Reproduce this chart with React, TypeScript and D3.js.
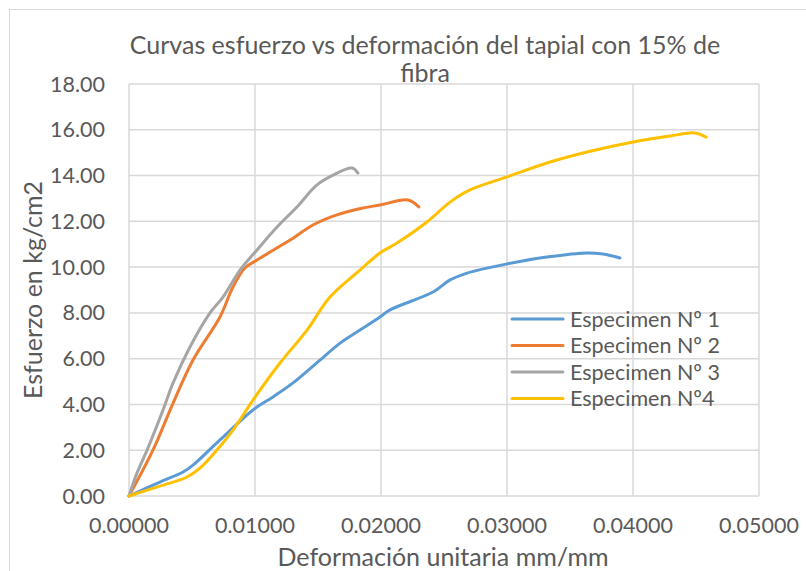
import React from "react";
import * as d3 from "d3";

const xTicks = [0, 0.01, 0.02, 0.03, 0.04, 0.05];
const yTicks = [0, 2, 4, 6, 8, 10, 12, 14, 16, 18];

const seriesNames = ["Especimen Nº 1", "Especimen Nº 2", "Especimen Nº 3", "Especimen Nº4"];
const seriesColors = ["#5B9BD5", "#ED7D31", "#A5A5A5", "#FFC000"];

const spec1: [number, number][] = [
  [0, 0], [0.00246, 0.61], [0.00429, 1.05], [0.00508, 1.35], [0.00722, 2.45], [0.00984, 3.76],
  [0.01143, 4.33], [0.01302, 4.94], [0.01516, 5.94], [0.01675, 6.68], [0.01833, 7.25],
  [0.01992, 7.82], [0.02071, 8.13], [0.02413, 8.91], [0.02548, 9.44], [0.02683, 9.74],
  [0.03, 10.14], [0.03317, 10.44], [0.03635, 10.62], [0.03762, 10.57], [0.03897, 10.4],
];
const spec2: [number, number][] = [
  [0, 0], [0.0019, 2.0], [0.0035, 4.06], [0.00508, 5.94], [0.00722, 7.82], [0.00825, 9.13],
  [0.0092, 9.96], [0.01016, 10.31], [0.01278, 11.18], [0.0146, 11.84], [0.0165, 12.28],
  [0.01857, 12.58], [0.01992, 12.71], [0.02214, 12.93], [0.0230, 12.63],
];
const spec3: [number, number][] = [
  [0, 0], [0.00063, 1.0], [0.00143, 2.0], [0.0027, 3.76], [0.0035, 4.94], [0.00484, 6.51],
  [0.00643, 8.0], [0.00746, 8.69], [0.00881, 9.87], [0.01016, 10.75], [0.01175, 11.75],
  [0.01333, 12.63], [0.01492, 13.59], [0.01619, 14.02], [0.0177, 14.33], [0.01817, 14.11],
];
const spec4: [number, number][] = [
  [0, 0], [0.00222, 0.39], [0.0046, 0.83], [0.00563, 1.22], [0.00698, 2.01], [0.00825, 2.88],
  [0.00984, 4.19], [0.01198, 5.81], [0.01413, 7.25], [0.01595, 8.69], [0.01833, 9.87],
  [0.01992, 10.62], [0.02127, 11.05], [0.02365, 11.97], [0.02548, 12.84], [0.02706, 13.37],
  [0.03, 13.94], [0.03317, 14.55], [0.03635, 15.03], [0.04, 15.47], [0.04294, 15.73],
  [0.04492, 15.86], [0.0458, 15.68],
];
const allSeries = [spec1, spec2, spec3, spec4];

export default function App() {
  const W = 806, H = 571;
  const left = 129, right = 759, top = 84, bottom = 496;
  const x = d3.scaleLinear().domain([0, 0.05]).range([left, right]);
  const y = d3.scaleLinear().domain([0, 18]).range([bottom, top]);
  const line = d3
    .line<[number, number]>()
    .x((d) => x(d[0]))
    .y((d) => y(d[1]))
    .curve(d3.curveCatmullRom.alpha(0.5));
  const font = "Lato, 'Open Sans', sans-serif";
  const txt = "#595959";
  const legX = 512, legY = 319, legStep = 26.5;
  const tickFs = 21.5, titleFs = 25;
  return (
    <svg width={W} height={H} style={{ position: "absolute", left: 0, top: 0 }} fontFamily={font}>
      <rect x={0} y={0} width={W} height={H} fill="#fff" />
      <rect x={9.5} y={9.5} width={900} height={700} fill="none" stroke="#D9D9D9" />
      {yTicks.map((t) => (
        <line key={"gy" + t} x1={left} x2={right} y1={y(t)} y2={y(t)} stroke="#D9D9D9" strokeWidth={1.5} />
      ))}
      {xTicks.map((t) => (
        <line key={"gx" + t} x1={x(t)} x2={x(t)} y1={top} y2={bottom} stroke="#D9D9D9" strokeWidth={1.5} />
      ))}
      {yTicks.map((t) => (
        <text key={"ty" + t} x={105} y={y(t)} dy="0.35em" textAnchor="end" fontSize={tickFs} fill={txt}>
          {t.toFixed(2)}
        </text>
      ))}
      {xTicks.map((t) => (
        <text key={"tx" + t} x={x(t)} y={525} dy="0.35em" textAnchor="middle" fontSize={tickFs} fill={txt}>
          {t.toFixed(5)}
        </text>
      ))}
      {allSeries.map((s, i) => (
        <path key={"s" + i} d={line(s) || ""} fill="none" stroke={seriesColors[i]} strokeWidth={3} strokeLinecap="round" strokeLinejoin="round" />
      ))}
      {seriesNames.map((n, i) => (
        <g key={"l" + i}>
          <line x1={legX} x2={563} y1={legY + i * legStep} y2={legY + i * legStep} stroke={seriesColors[i]} strokeWidth={3} strokeLinecap="round" />
          <text x={570} y={legY + i * legStep} dy="0.35em" fontSize={tickFs} fill={txt}>
            {n}
          </text>
        </g>
      ))}
      <text x={425} y={45} dy="0.35em" textAnchor="middle" fontSize={titleFs} fill={txt}>
        Curvas esfuerzo vs deformación del tapial con 15% de
      </text>
      <text x={425} y={73} dy="0.35em" textAnchor="middle" fontSize={titleFs} fill={txt}>
        fibra
      </text>
      <text x={443} y={557} dy="0.35em" textAnchor="middle" fontSize={titleFs} fill={txt}>
        Deformación unitaria mm/mm
      </text>
      <text transform="translate(33,290) rotate(-90)" dy="0.35em" textAnchor="middle" fontSize={titleFs} fill={txt}>
        Esfuerzo en kg/cm2
      </text>
    </svg>
  );
}
